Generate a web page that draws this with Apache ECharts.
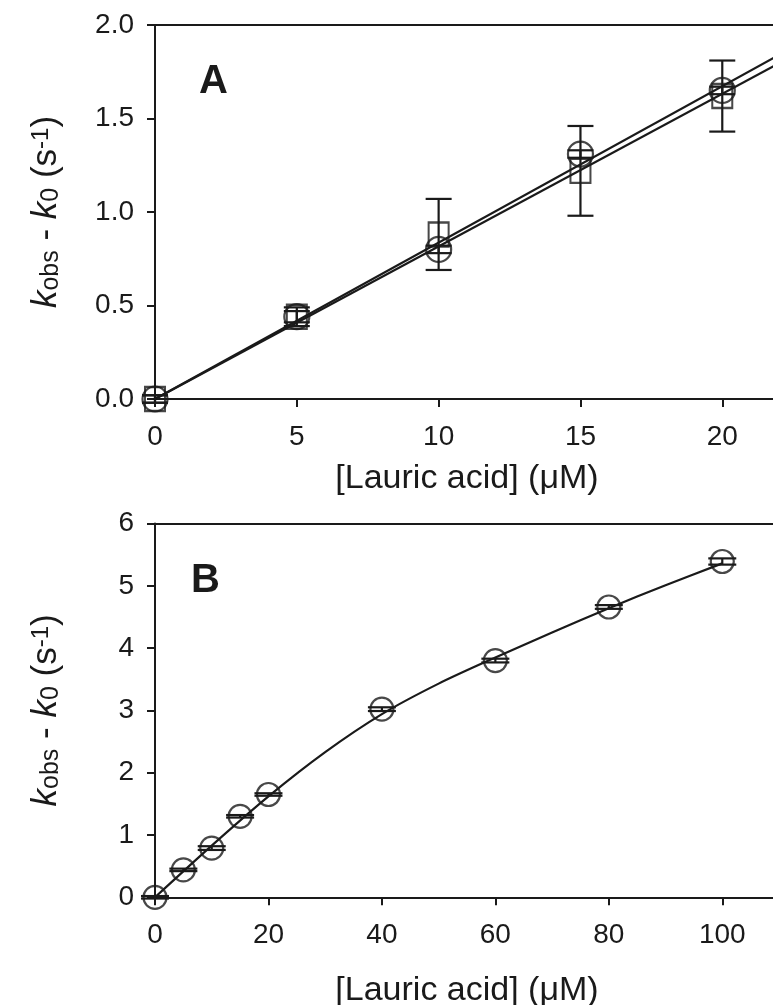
<!DOCTYPE html>
<html>
<head>
<meta charset="utf-8">
<script src="https://cdn.jsdelivr.net/npm/echarts@6/dist/echarts.min.js"></script>
<style>
  html, body { margin: 0; padding: 0; background: #fff; }
  #chart { width: 773px; height: 1005px; }
</style>
</head>
<body>
<div id="chart"></div>
<script>
// ---- panel A : low lauric acid range, two data sets (circles / squares) ----
const concA = [0, 5, 10, 15, 20]
const kCircleA = [0, 0.44, 0.80, 1.31, 1.65]
const errCircleA = [0.02, 0.03, 0.02, 0.02, 0.02]
const kSquareA = [0, 0.44, 0.88, 1.22, 1.62]
const errSquareA = [0.02, 0.05, 0.19, 0.24, 0.19]
// straight fit lines, end points
const fitCircleA = [[0, 0], [22, 1.84]]
const fitSquareA = [[0, 0], [22, 1.795]]
const xTicksA = [0, 5, 10, 15, 20]
const yTicksA = [0, 0.5, 1.0, 1.5, 2.0]

// ---- panel B : full range ----
const concB = [0, 5, 10, 15, 20, 40, 60, 80, 100]
const kB = [0, 0.44, 0.79, 1.30, 1.65, 3.02, 3.80, 4.66, 5.39]
const errB = [0.02, 0.02, 0.03, 0.02, 0.02, 0.03, 0.03, 0.03, 0.05]
// fitted curve
const fitConcB = [0, 10, 20, 30, 40, 50, 60, 70, 80, 90, 100]
const fitB = [0, 0.83, 1.62, 2.33, 2.94, 3.43, 3.85, 4.25, 4.64, 5.01, 5.36]
const xTicksB = [0, 20, 40, 60, 80, 100]
const yTicksB = [0, 1, 2, 3, 4, 5, 6]

const ink = '#1a1a1a'
const font = '"Liberation Sans", Arial, sans-serif'

const chart = echarts.init(document.getElementById('chart'), null, { renderer: 'canvas' })

// y axis title with italic k and sub / superscripts
const kTitle = '{k|k}{sub|obs}{n| - }{k|k}{sub|0}{n| (s}{sup|-1}{n|)}'
const kRich = {
  k: { fontSize: 35, fontStyle: 'italic', lineHeight: 35, verticalAlign: 'middle', color: ink, fontFamily: font },
  n: { fontSize: 35, lineHeight: 35, verticalAlign: 'middle', color: ink, fontFamily: font },
  sub: { fontSize: 25, lineHeight: 25, verticalAlign: 'bottom', color: ink, fontFamily: font },
  sup: { fontSize: 24, lineHeight: 24, verticalAlign: 'top', color: ink, fontFamily: font }
}

function errorBars(xs, ys, es, axisIdx, capHalf) {
  return {
    type: 'custom',
    xAxisIndex: axisIdx * 2,
    yAxisIndex: axisIdx,
    clip: false,
    z: 4,
    data: xs.map((x, i) => [x, ys[i] - es[i], ys[i] + es[i]]),
    encode: { x: 0, y: [1, 2] },
    renderItem: (params, api) => {
      const lo = api.coord([api.value(0), api.value(1)])
      const hi = api.coord([api.value(0), api.value(2)])
      const st = { stroke: ink, lineWidth: 2.2, fill: null }
      return {
        type: 'group',
        children: [
          { type: 'line', shape: { x1: lo[0], y1: lo[1], x2: hi[0], y2: hi[1] }, style: st },
          { type: 'line', shape: { x1: lo[0] - capHalf, y1: lo[1], x2: lo[0] + capHalf, y2: lo[1] }, style: st },
          { type: 'line', shape: { x1: hi[0] - capHalf, y1: hi[1], x2: hi[0] + capHalf, y2: hi[1] }, style: st }
        ]
      }
    }
  }
}

function bottomAxis(gridIndex, ticks, extra, nameGap) {
  return {
    type: 'value',
    gridIndex: gridIndex,
    position: 'bottom',
    min: ticks[0],
    max: ticks[ticks.length - 1] + extra,
    interval: ticks[1] - ticks[0],
    name: '[Lauric acid] (\u03bcM)',
    nameLocation: 'middle',
    nameGap: nameGap,
    nameTextStyle: { fontSize: 34, color: ink, fontFamily: font },
    axisLine: { show: true, onZero: false, lineStyle: { color: ink, width: 2 } },
    axisTick: { show: true, inside: false, length: 8, lineStyle: { color: ink, width: 2 } },
    axisLabel: { show: true, margin: 24, fontSize: 28, color: ink, fontFamily: font, showMaxLabel: false },
    splitLine: { show: false }
  }
}

function topAxis(gridIndex, ticks, extra) {
  return {
    type: 'value',
    gridIndex: gridIndex,
    position: 'top',
    min: ticks[0],
    max: ticks[ticks.length - 1] + extra,
    axisLine: { show: true, onZero: false, lineStyle: { color: ink, width: 2 } },
    axisTick: { show: false },
    axisLabel: { show: false },
    splitLine: { show: false }
  }
}

function leftAxis(gridIndex, ticks, digits) {
  return {
    type: 'value',
    gridIndex: gridIndex,
    min: ticks[0],
    max: ticks[ticks.length - 1],
    interval: ticks[1] - ticks[0],
    name: kTitle,
    nameLocation: 'middle',
    nameGap: 91,
    nameTextStyle: { rich: kRich, lineHeight: 48 },
    axisLine: { show: true, onZero: false, lineStyle: { color: ink, width: 2 } },
    axisTick: { show: true, inside: false, length: 8, lineStyle: { color: ink, width: 2 } },
    axisLabel: {
      show: true, margin: 21, fontSize: 28, color: ink, fontFamily: font,
      formatter: v => v.toFixed(digits)
    },
    splitLine: { show: false }
  }
}

const circleStyle = { color: 'transparent', borderColor: ink, borderWidth: 2.2 }

const option = {
  animation: false,
  backgroundColor: '#ffffff',
  grid: [
    { left: 155, right: -6, top: 25, height: 374, outerBoundsMode: 'none' },
    { left: 155, right: -6, top: 523.5, height: 373.8, outerBoundsMode: 'none' }
  ],
  xAxis: [
    bottomAxis(0, xTicksA, 2, 63),
    topAxis(0, xTicksA, 2),
    bottomAxis(1, xTicksB, 10, 76),
    topAxis(1, xTicksB, 10)
  ],
  yAxis: [
    leftAxis(0, yTicksA, 1),
    leftAxis(1, yTicksB, 0)
  ],
  graphic: [
    { type: 'text', left: 199, top: 62, style: { text: 'A', font: 'bold 40px ' + font, fill: ink } },
    { type: 'text', left: 191, top: 561, style: { text: 'B', font: 'bold 40px ' + font, fill: ink } }
  ],
  series: [
    // panel A fits
    {
      type: 'line', xAxisIndex: 0, yAxisIndex: 0, data: fitCircleA,
      showSymbol: false, symbol: 'none', lineStyle: { color: ink, width: 2.2 }, z: 2
    },
    {
      type: 'line', xAxisIndex: 0, yAxisIndex: 0, data: fitSquareA,
      showSymbol: false, symbol: 'none', lineStyle: { color: ink, width: 2.2 }, z: 2
    },
    errorBars(concA, kSquareA, errSquareA, 0, 13),
    errorBars(concA, kCircleA, errCircleA, 0, 13),
    {
      type: 'scatter', xAxisIndex: 0, yAxisIndex: 0, clip: false,
      data: concA.map((x, i) => [x, kSquareA[i]]),
      symbol: 'rect', symbolSize: [20, 24], itemStyle: circleStyle, z: 5
    },
    {
      type: 'scatter', xAxisIndex: 0, yAxisIndex: 0, clip: false,
      data: concA.map((x, i) => [x, kCircleA[i]]),
      symbol: 'circle', symbolSize: 25, itemStyle: circleStyle, z: 5
    },
    // panel B
    {
      type: 'line', xAxisIndex: 2, yAxisIndex: 1,
      data: fitConcB.map((x, i) => [x, fitB[i]]),
      smooth: 0.3, showSymbol: false, symbol: 'none', lineStyle: { color: ink, width: 2.2 }, z: 2
    },
    errorBars(concB, kB, errB, 1, 14),
    {
      type: 'scatter', xAxisIndex: 2, yAxisIndex: 1, clip: false,
      data: concB.map((x, i) => [x, kB[i]]),
      symbol: 'circle', symbolSize: 23, itemStyle: circleStyle, z: 5
    }
  ]
}

chart.setOption(option)
</script>
</body>
</html>
